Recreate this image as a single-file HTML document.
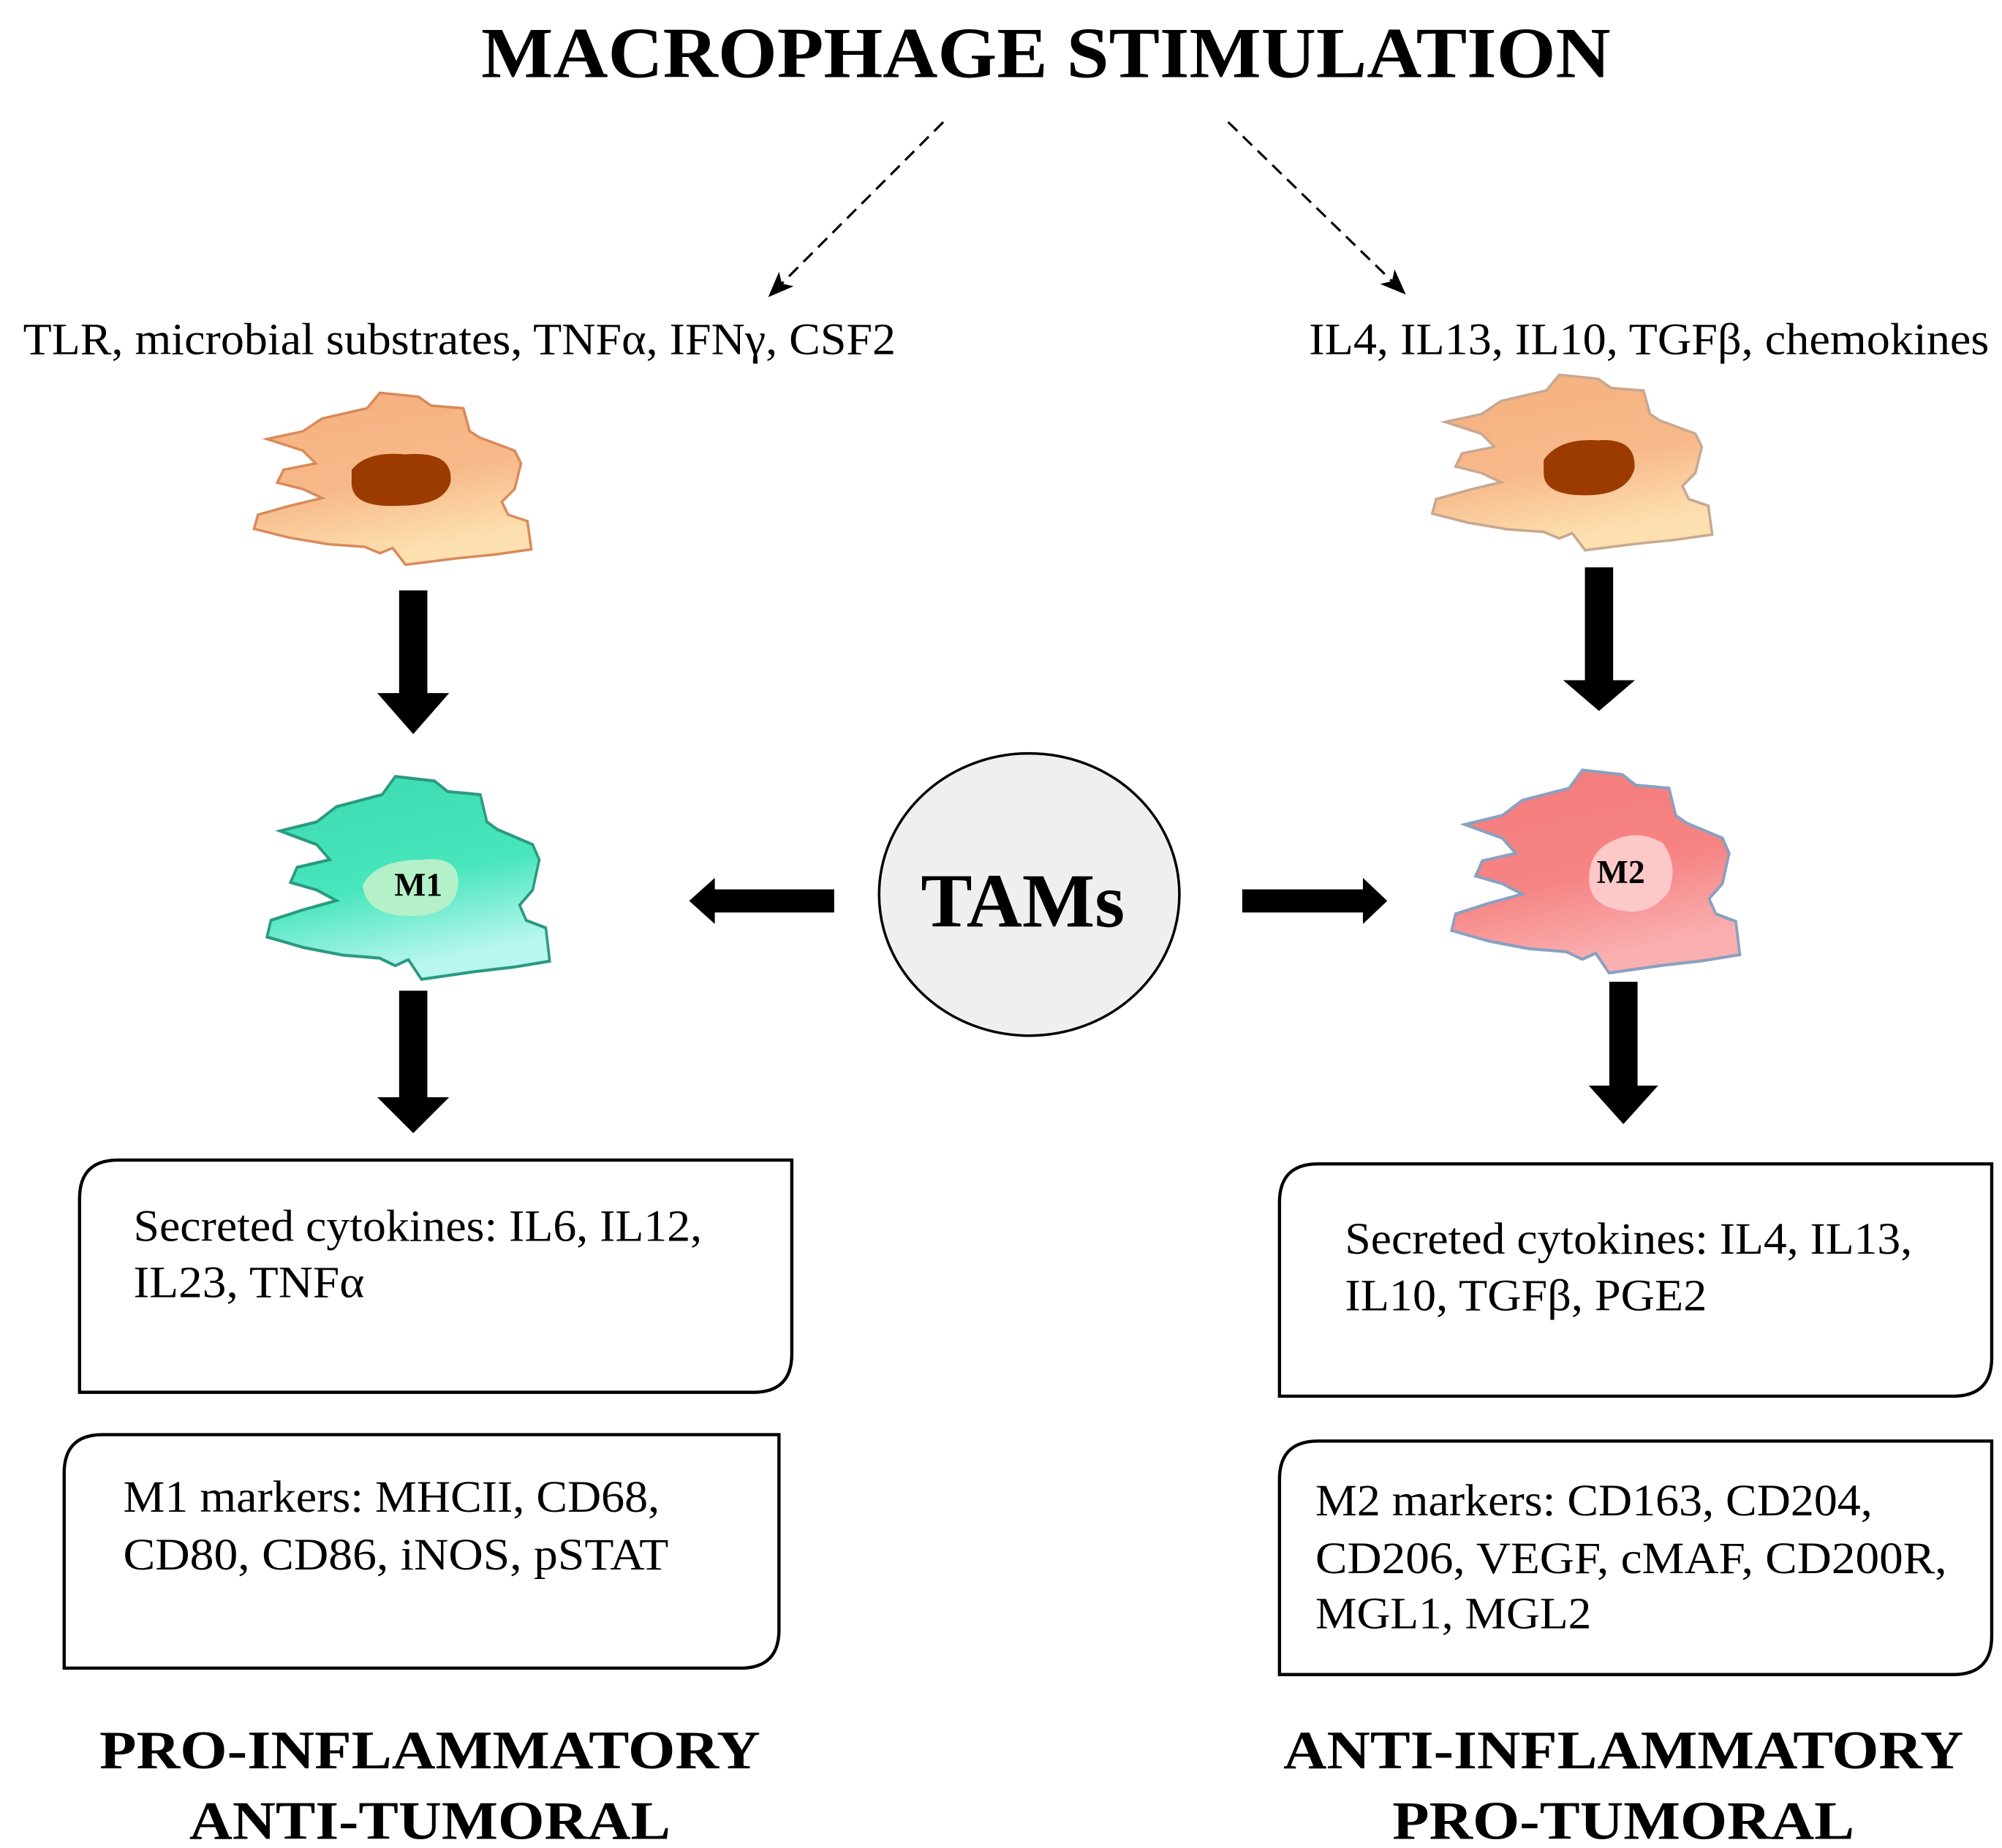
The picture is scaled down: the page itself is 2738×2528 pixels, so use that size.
<!DOCTYPE html>
<html><head><meta charset="utf-8"><style>html,body{margin:0;padding:0;background:#fff}svg{display:block}</style></head>
<body>
<svg width="2738" height="2528" viewBox="0 0 1560 1440" xmlns="http://www.w3.org/2000/svg" font-family="'Liberation Serif', serif">
<defs>
<marker id="ah" markerWidth="24" markerHeight="24" refX="18" refY="8" orient="auto" markerUnits="userSpaceOnUse"><path d="M0,0 L20,8 L0,16 L5,8 Z" fill="#000"/></marker>
<path id="cell" d="M100,0 L130,3 L140,10 L165,12 L170,30 L178,35 L205,45 L210,55 L205,75 L195,85 L200,95 L215,100 L218,122 L190,126 L160,129 L120,134 L110,121 L100,125 L88,120 L60,118 L30,113 L2,106 L5,95 L30,88 L55,82 L40,75 L20,70 L25,60 L50,55 L40,45 L12,36 L40,30 L55,20 L90,12 Z"/>
<linearGradient id="go" x1="0" y1="0" x2="0.3" y2="1"><stop offset="0" stop-color="#f6b07e"/><stop offset="0.6" stop-color="#f7b98a"/><stop offset="1" stop-color="#fde0b0"/></linearGradient>
<linearGradient id="gg" x1="0" y1="0" x2="0.3" y2="1"><stop offset="0" stop-color="#3dd9b0"/><stop offset="0.6" stop-color="#48e6bc"/><stop offset="1" stop-color="#b8f6f0"/></linearGradient>
<linearGradient id="gr" x1="0" y1="0" x2="0.3" y2="1"><stop offset="0" stop-color="#f47a7a"/><stop offset="0.6" stop-color="#f68484"/><stop offset="1" stop-color="#fab0b0"/></linearGradient>
</defs>

<text x="815" y="60" font-size="56" font-weight="bold" text-anchor="middle" textLength="880" lengthAdjust="spacingAndGlyphs">MACROPHAGE STIMULATION</text>

<line x1="735" y1="95" x2="600" y2="230" stroke="#000" stroke-width="1.8" stroke-dasharray="10,6" marker-end="url(#ah)"/>
<line x1="957" y1="95" x2="1094" y2="228" stroke="#000" stroke-width="1.8" stroke-dasharray="10,6" marker-end="url(#ah)"/>

<text x="18" y="276" font-size="35" textLength="680" lengthAdjust="spacingAndGlyphs">TLR, microbial  substrates, TNFα, IFNγ, CSF2</text>
<text x="1020" y="276" font-size="35" textLength="530" lengthAdjust="spacingAndGlyphs">IL4, IL13, IL10, TGFβ, chemokines</text>

<g transform="translate(196,306)"><use href="#cell" fill="url(#go)" stroke="#d98a5a" stroke-width="2"/><path d="M78,60 Q90,45 120,48 Q158,45 155,70 Q150,88 115,88 Q80,90 78,72 Z" fill="#9b3b00"/></g>
<g transform="translate(1114,292) scale(1.01,1.02)"><use href="#cell" fill="url(#go)" stroke="#c8a890" stroke-width="2"/><path d="M88,65 Q100,48 130,50 Q160,48 158,72 Q152,92 120,92 Q88,92 88,75 Z" fill="#9b3b00"/></g>

<g transform="translate(206,605) scale(1.02,1.18)"><use href="#cell" fill="url(#gg)" stroke="#2a9a80" stroke-width="2"/><path d="M75,72 Q85,55 120,55 Q150,52 148,72 Q146,90 118,92 Q78,94 75,72 Z" fill="#b4f0c8"/></g>
<text x="326" y="698" font-size="26" font-weight="bold" text-anchor="middle">M1</text>

<g transform="translate(1129,600) scale(1.04,1.18)"><use href="#cell" fill="url(#gr)" stroke="#8aa0c0" stroke-width="2"/><path d="M120,48 Q140,38 160,48 Q172,62 165,80 Q150,98 125,92 Q105,88 105,72 Q105,55 120,48 Z" fill="#fcc8c8"/></g>
<text x="1263" y="688" font-size="26" font-weight="bold" text-anchor="middle">M2</text>

<g fill="#000">
<path d="M311,460 H333 V540 H350 L322,572 L294,540 H311 Z"/>
<path d="M1235,442 H1257 V530 H1274 L1246,554 L1218,530 H1235 Z"/>
<path d="M311,772 H333 V855 H350 L322,883 L294,855 H311 Z"/>
<path d="M1254,765 H1276 V846 H1292 L1265,876 L1238,846 H1254 Z"/>
<path d="M650,693 V711 H557 V720 L537,702 L557,684 V693 Z"/>
<path d="M968,693 V711 H1062 V720 L1081,702 L1062,684 V693 Z"/>
</g>

<ellipse cx="802" cy="697" rx="117" ry="110" fill="#efefef" stroke="#000" stroke-width="2"/>
<text x="797" y="722" font-size="60" font-weight="bold" text-anchor="middle">TAMs</text>

<g fill="#fff" stroke="#000" stroke-width="2.5">
<path d="M92,904 H617 V1055 Q617,1085 587,1085 H62 V934 Q62,904 92,904 Z"/>
<path d="M80,1118 H607 V1270 Q607,1300 577,1300 H50 V1148 Q50,1118 80,1118 Z"/>
<path d="M1027,907 H1552 V1058 Q1552,1088 1522,1088 H997 V937 Q997,907 1027,907 Z"/>
<path d="M1027,1123 H1552 V1275 Q1552,1305 1522,1305 H997 V1153 Q997,1123 1027,1123 Z"/>
</g>
<g font-size="35">
<text x="104" y="967" textLength="443" lengthAdjust="spacingAndGlyphs">Secreted cytokines: IL6, IL12,</text>
<text x="104" y="1011" textLength="180" lengthAdjust="spacingAndGlyphs">IL23, TNFα</text>
<text x="96" y="1178" textLength="418" lengthAdjust="spacingAndGlyphs">M1 markers: MHCII, CD68,</text>
<text x="96" y="1223" textLength="425" lengthAdjust="spacingAndGlyphs">CD80, CD86, iNOS, pSTAT</text>
<text x="1048" y="977" textLength="442" lengthAdjust="spacingAndGlyphs">Secreted cytokines: IL4, IL13,</text>
<text x="1048" y="1021" textLength="282" lengthAdjust="spacingAndGlyphs">IL10, TGFβ, PGE2</text>
<text x="1025" y="1181" textLength="434" lengthAdjust="spacingAndGlyphs">M2 markers: CD163, CD204,</text>
<text x="1025" y="1226" textLength="492" lengthAdjust="spacingAndGlyphs">CD206, VEGF, cMAF, CD200R,</text>
<text x="1025" y="1269" textLength="215" lengthAdjust="spacingAndGlyphs">MGL1, MGL2</text>
</g>

<g font-size="42" font-weight="bold" text-anchor="middle">
<text x="335" y="1378" textLength="515" lengthAdjust="spacingAndGlyphs">PRO-INFLAMMATORY</text>
<text x="335" y="1433" textLength="375" lengthAdjust="spacingAndGlyphs">ANTI-TUMORAL</text>
<text x="1265" y="1378" textLength="530" lengthAdjust="spacingAndGlyphs">ANTI-INFLAMMATORY</text>
<text x="1265" y="1433" textLength="360" lengthAdjust="spacingAndGlyphs">PRO-TUMORAL</text>
</g>
</svg>
</body></html>
